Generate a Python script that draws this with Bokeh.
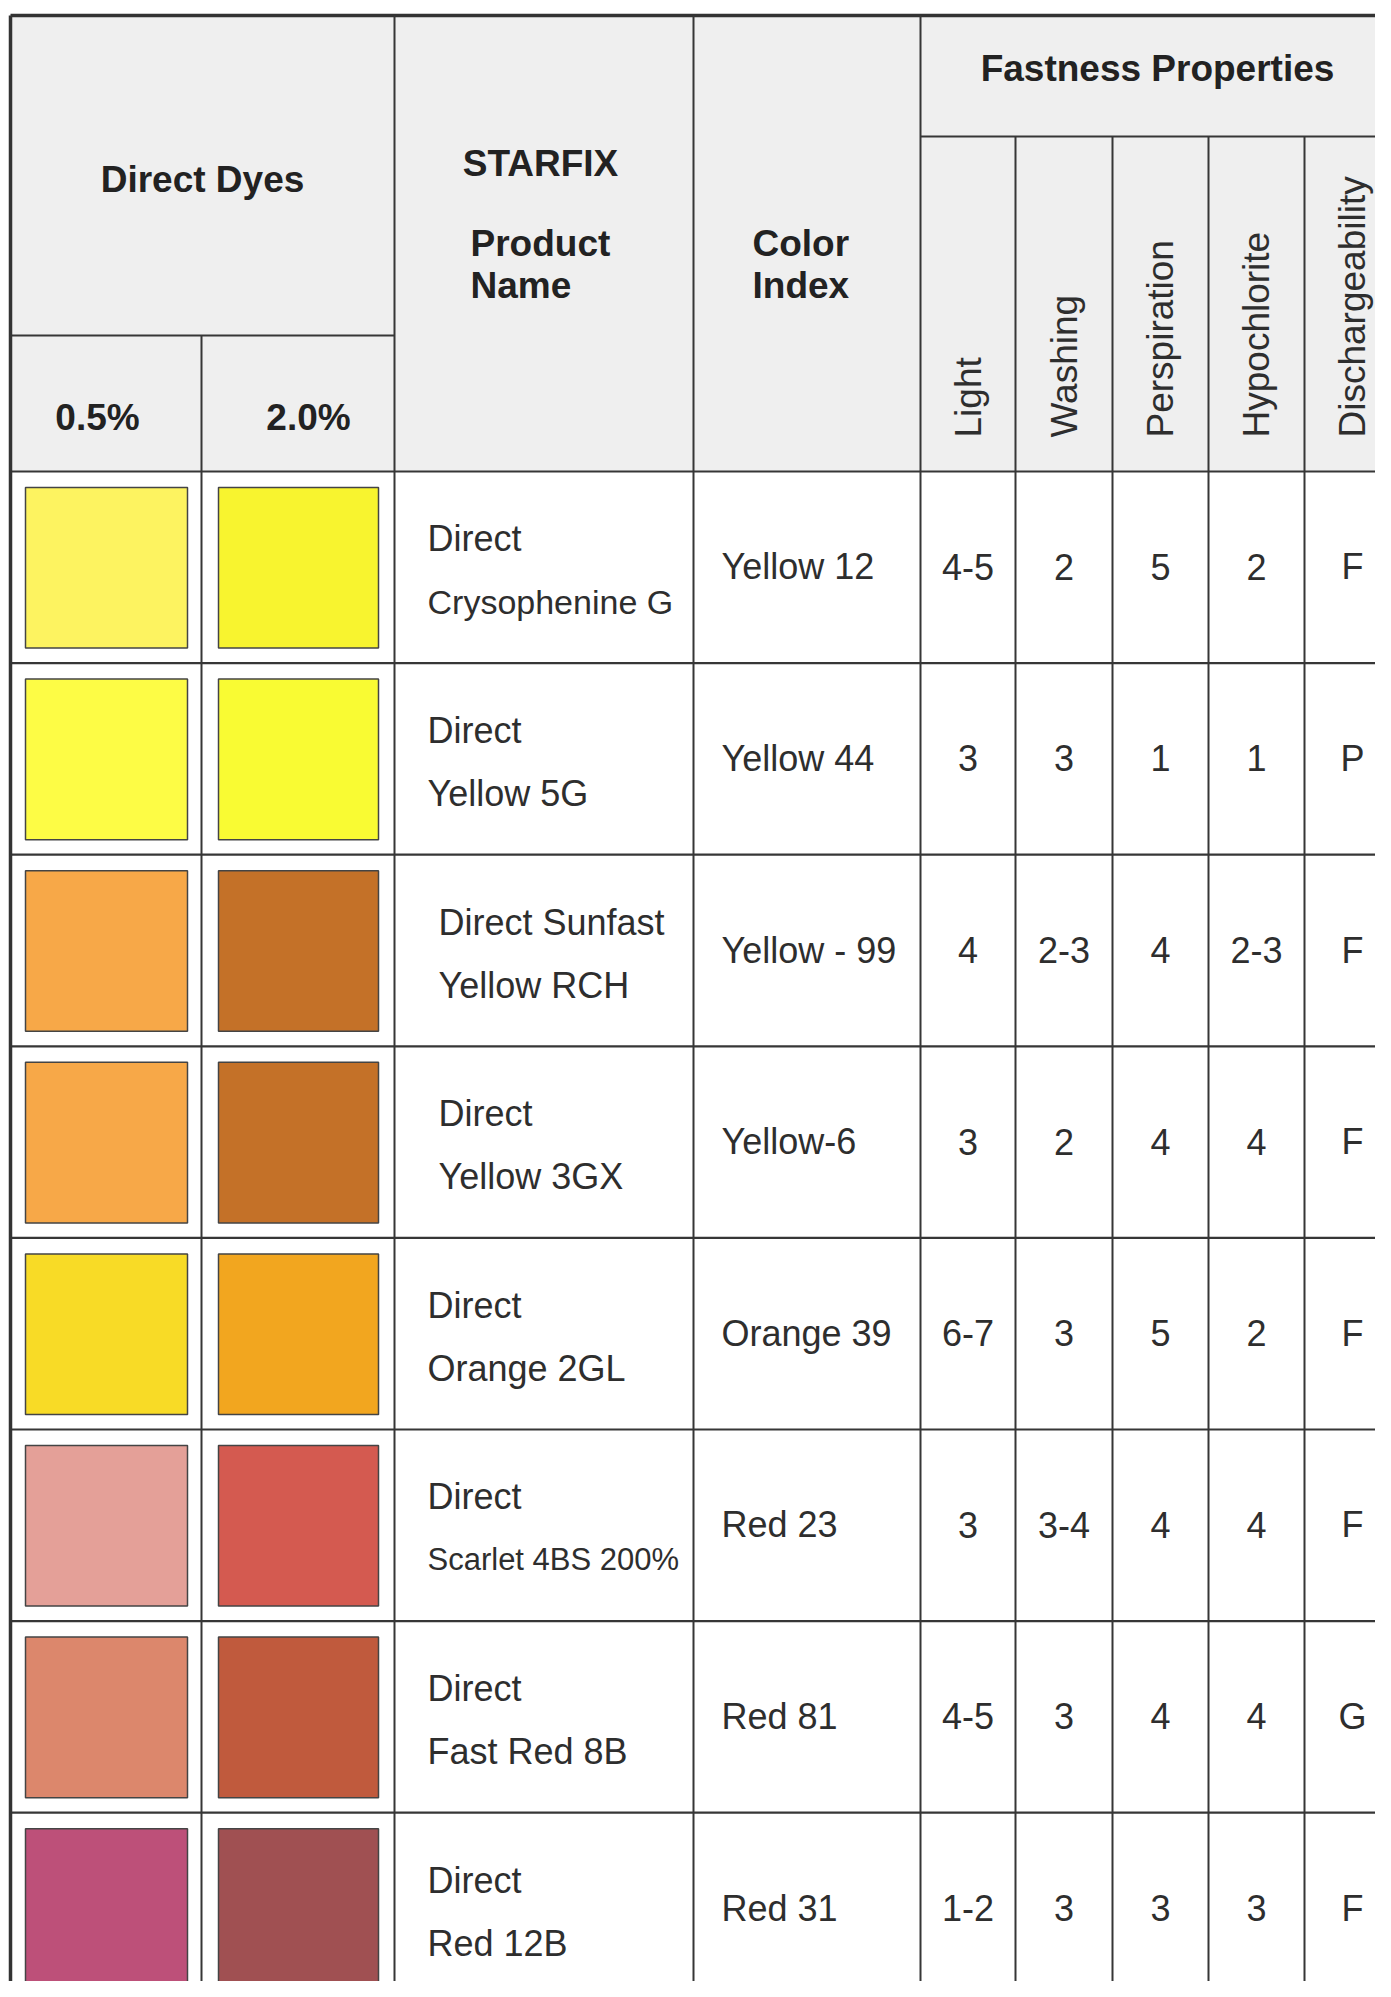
import math
from bokeh.plotting import figure
from bokeh.models import ColumnDataSource, Range1d
from bokeh.core.properties import value
from bokeh.embed import file_html
from bokeh.resources import INLINE

# ---------------- data ----------------
swatch_05 = ["#FDF360", "#FDFC45", "#F7A848", "#F7A848", "#F8DB26", "#E4A098", "#DC876C", "#BD5079"]
swatch_20 = ["#F8F42F", "#F9FB33", "#C47128", "#C47128", "#F2A61F", "#D45A50", "#C05A3D", "#A05052"]
name_line1 = ["Direct", "Direct", "Direct Sunfast", "Direct", "Direct", "Direct", "Direct", "Direct"]
name_line2 = ["Crysophenine G", "Yellow 5G", "Yellow RCH", "Yellow 3GX", "Orange 2GL",
              "Scarlet 4BS 200%", "Fast Red 8B", "Red 12B"]
color_index = ["Yellow 12", "Yellow 44", "Yellow - 99", "Yellow-6", "Orange 39", "Red 23", "Red 81", "Red 31"]
light = ["4-5", "3", "4", "3", "6-7", "3", "4-5", "1-2"]
washing = ["2", "3", "2-3", "2", "3", "3-4", "3", "3"]
perspiration = ["5", "1", "4", "4", "5", "4", "4", "3"]
hypochlorite = ["2", "1", "2-3", "4", "2", "4", "4", "3"]
discharge = ["F", "P", "F", "F", "F", "F", "G", "F"]
fastness_labels = ["Light", "Washing", "Perspiration", "Hypochlorite", "Dischargeability"]
header_dyes = "Direct Dyes"
header_conc = ["0.5%", "2.0%"]
header_fast = "Fastness Properties"

# ---------------- layout / style ----------------
col_edges = [10, 201, 394, 693, 920, 1015, 1112, 1208, 1304, 1400]
table_top = 15
fast_sub = 136
dye_sub = 335
head_bottom = 471
row_h = 191.6
bottom_end = 2200
n = len(name_line1)
row_top = [head_bottom + i * row_h for i in range(n)]
row_mid = [t + row_h / 2 for t in row_top]
name_indent = [427, 427, 438, 438, 427, 427, 427, 427]
name2_size = ["34px", "36px", "36px", "36px", "36px", "31px", "36px", "36px"]
DY = -12.5  # baseline correction

FONT = "Liberation Sans"
LINE = "#363636"
TXT = "#2e2e2e"
HTXT = "#222222"

W, H = 1375, 1981
p = figure(width=W, height=H, x_range=Range1d(0, W), y_range=Range1d(H, 0),
           x_axis_type=None, y_axis_type=None, toolbar_location=None,
           output_backend="svg", min_border=0, outline_line_color=None,
           background_fill_color="white", border_fill_color="white")
p.grid.visible = False

# header background
p.quad(left=[col_edges[0]], right=[col_edges[-1]], top=[table_top], bottom=[head_bottom],
       fill_color="#EFEFEF", line_color=None)

# swatches
sw = ColumnDataSource(dict(
    l1=[col_edges[0] + 15] * n, r1=[col_edges[1] - 14] * n,
    l2=[col_edges[1] + 17] * n, r2=[col_edges[2] - 16] * n,
    t=[t + 16 for t in row_top], b=[t + row_h - 15 for t in row_top],
    c1=swatch_05, c2=swatch_20))
p.quad(left="l1", right="r1", top="t", bottom="b", fill_color="c1", line_color="#444444",
       line_width=1.5, source=sw)
p.quad(left="l2", right="r2", top="t", bottom="b", fill_color="c2", line_color="#444444",
       line_width=1.5, source=sw)

# grid lines
hx0, hx1, hy = [], [], []
for y in [head_bottom] + [t + row_h for t in row_top]:
    hx0.append(col_edges[0]); hx1.append(col_edges[-1]); hy.append(y)
hx0.append(col_edges[0]); hx1.append(col_edges[2]); hy.append(dye_sub)
hx0.append(col_edges[4]); hx1.append(col_edges[-1]); hy.append(fast_sub)
p.segment(x0=hx0, x1=hx1, y0=hy, y1=hy, line_color=LINE, line_width=2.2)
p.segment(x0=[col_edges[0]], x1=[col_edges[-1]], y0=[table_top], y1=[table_top],
          line_color="#333333", line_width=3.5)

vx, vy0 = [], []
vx.append(col_edges[1]); vy0.append(dye_sub)
for x in col_edges[2:5]:
    vx.append(x); vy0.append(table_top)
for x in col_edges[5:9]:
    vx.append(x); vy0.append(fast_sub)
p.segment(x0=vx, x1=vx, y0=vy0, y1=[bottom_end] * len(vx), line_color=LINE, line_width=2)
p.segment(x0=[col_edges[0]], x1=[col_edges[0]], y0=[table_top], y1=[bottom_end],
          line_color="#333333", line_width=3.5)

# header texts
def htext(x, y, t, align="center", font_size="37px"):
    p.text(x=[x], y=[y + DY], text=[t], text_align=align, text_baseline="alphabetic",
           text_font=value(FONT), text_font_style="bold", text_font_size=font_size,
           text_color=HTXT)

htext((col_edges[0] + col_edges[2]) / 2, 191, header_dyes)
htext(97, 429, header_conc[0])
htext(308, 429, header_conc[1])
htext(540, 175, "STARFIX")
htext(470, 255, "Product", "left")
htext(470, 297, "Name", "left")
htext(752, 255, "Color", "left")
htext(752, 297, "Index", "left")
htext(1157, 80, header_fast)

fcent = [(col_edges[i] + col_edges[i + 1]) / 2 for i in range(4, 9)]
p.text(x=fcent, y=[437] * 5, text=fastness_labels, angle=math.pi / 2, text_align="left",
       text_baseline="middle", text_font=value(FONT), text_font_size="37px", text_color=TXT)

# body texts
p.text(x=name_indent, y=[m - 16 + DY for m in row_mid], text=name_line1, text_align="left",
       text_baseline="alphabetic", text_font=value(FONT), text_font_size="36px", text_color=TXT)
src2 = ColumnDataSource(dict(x=name_indent, y=[m + 47 + DY for m in row_mid], t=name_line2,
                             fs=name2_size))
p.text(x="x", y="y", text="t", text_font_size="fs", text_align="left",
       text_baseline="alphabetic", text_font=value(FONT), text_color=TXT, source=src2)

p.text(x=[721] * n, y=[m + 12 + DY for m in row_mid], text=color_index, text_align="left",
       text_baseline="alphabetic", text_font=value(FONT), text_font_size="36px", text_color=TXT)

for k, col in enumerate([light, washing, perspiration, hypochlorite, discharge]):
    p.text(x=[fcent[k]] * n, y=[m + 12 + DY for m in row_mid], text=col, text_align="center",
           text_baseline="alphabetic", text_font=value(FONT), text_font_size="36px",
           text_color=TXT)

open("out.html", "w").write(file_html(p, INLINE))
